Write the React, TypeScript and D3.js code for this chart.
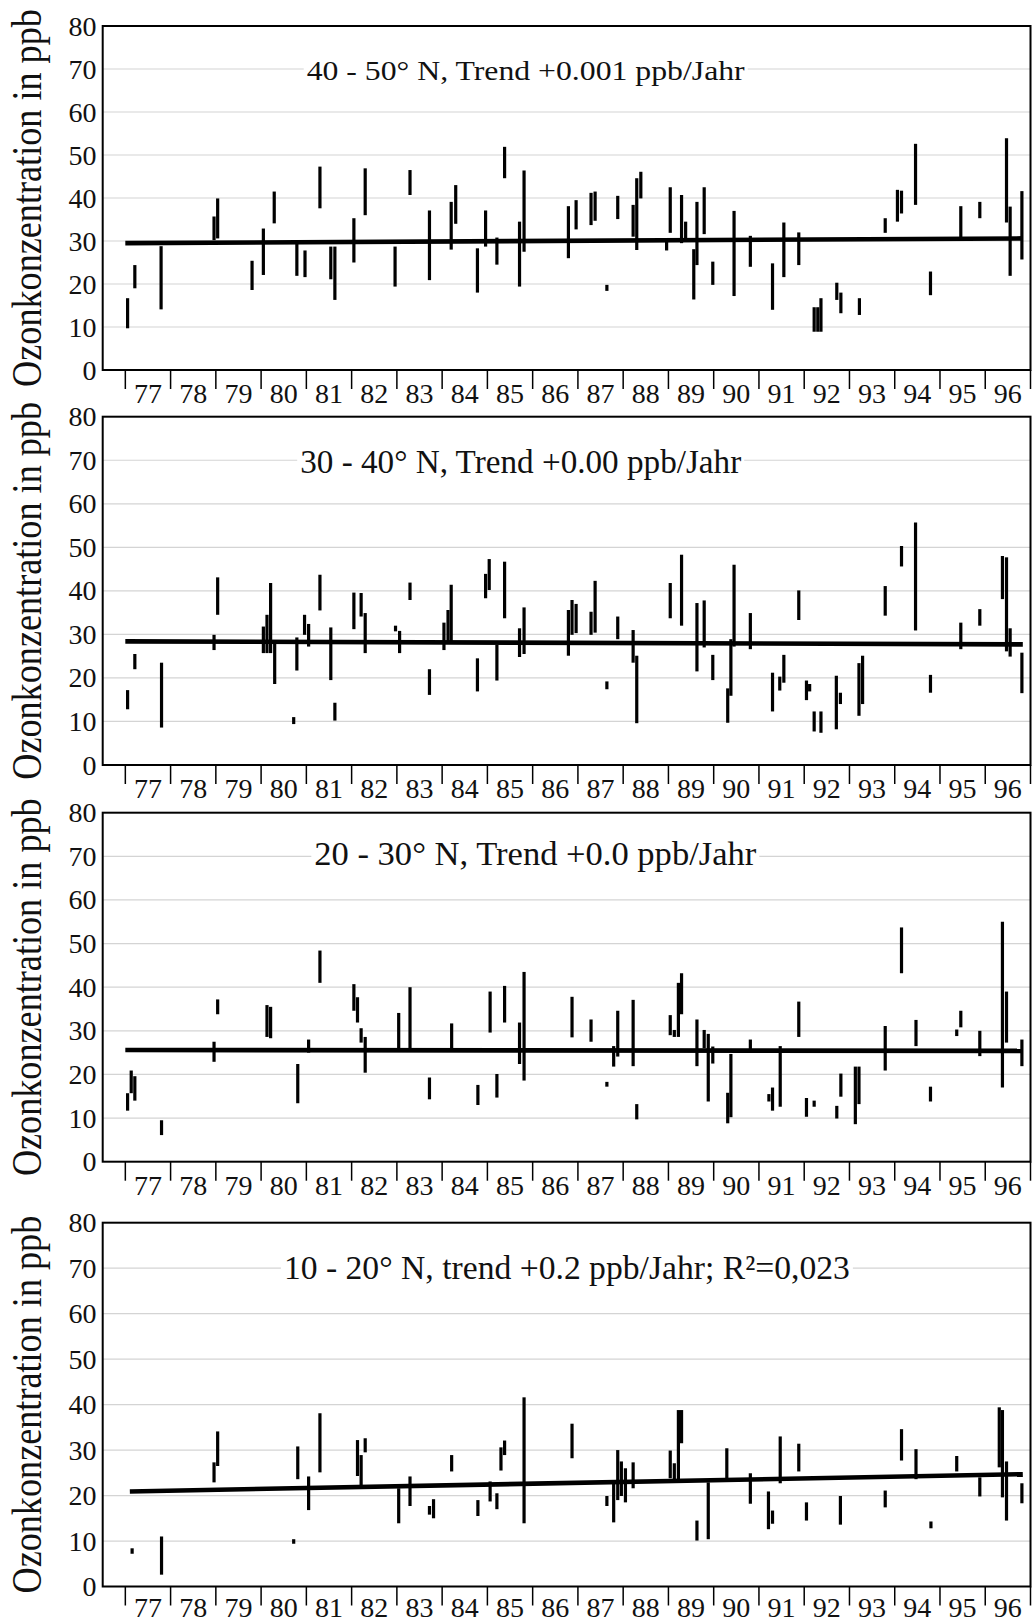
import React from "react";
import * as d3 from "d3";

// ---------- data ----------
const yearTicks: number[] = d3.range(1977, 1998);
const yearLabels: string[] = ["77","78","79","80","81","82","83","84","85","86","87","88","89","90","91","92","93","94","95","96"];
const yTicks: number[] = [0, 10, 20, 30, 40, 50, 60, 70, 80];
const yAxisTitle = "Ozonkonzentration in ppb";

const titles: string[] = [
  "40 - 50° N, Trend +0.001 ppb/Jahr",
  "30 - 40° N, Trend +0.00 ppb/Jahr",
  "20 - 30° N, Trend +0.0 ppb/Jahr",
  "10 - 20° N, trend +0.2 ppb/Jahr; R²=0,023",
];

// [decimal year, min, max] in ppb
const bars40_50: [number, number, number][] = [
  [1977.05, 9.7, 16.7], [1977.21, 19.0, 24.4], [1977.79, 14.1, 28.8], [1978.96, 30.2, 35.7],
  [1979.04, 30.6, 39.9], [1979.80, 18.6, 25.4], [1980.05, 22.1, 32.9], [1980.29, 34.1, 41.5],
  [1980.79, 21.9, 29.5], [1980.97, 21.6, 27.8], [1981.30, 37.6, 47.3], [1981.54, 21.1, 28.7],
  [1981.63, 16.3, 28.7], [1982.05, 25.0, 35.3], [1982.30, 36.0, 46.9], [1982.96, 19.4, 28.7],
  [1983.29, 40.7, 46.5], [1983.72, 20.9, 37.1], [1984.20, 28.0, 39.1], [1984.30, 34.0, 43.0],
  [1984.78, 18.0, 28.3], [1984.96, 28.7, 37.1], [1985.21, 24.5, 30.8], [1985.38, 44.6, 51.9],
  [1985.71, 19.4, 34.5], [1985.81, 27.5, 46.4], [1986.79, 26.0, 38.1], [1986.96, 32.7, 39.5],
  [1987.29, 33.7, 41.2], [1987.38, 34.7, 41.5], [1987.64, 18.4, 19.8], [1987.88, 35.1, 40.5],
  [1988.22, 31.0, 38.4], [1988.30, 27.9, 44.6], [1988.39, 39.9, 46.1], [1988.96, 27.8, 29.8],
  [1989.04, 31.9, 42.5], [1989.29, 29.5, 40.7], [1989.38, 30.2, 34.5], [1989.56, 16.4, 28.1],
  [1989.63, 24.4, 39.1], [1989.79, 31.6, 42.5], [1989.98, 19.8, 25.2], [1990.45, 17.2, 37.0],
  [1990.81, 24.0, 31.2], [1991.30, 14.0, 24.8], [1991.55, 21.6, 34.3], [1991.88, 24.4, 32.0],
  [1992.22, 8.9, 14.6], [1992.30, 8.9, 14.6], [1992.37, 8.9, 16.7], [1992.72, 16.3, 20.3],
  [1992.81, 13.2, 18.0], [1993.22, 12.8, 16.7], [1993.79, 31.9, 35.3], [1994.06, 34.5, 41.9],
  [1994.15, 36.4, 41.7], [1994.46, 38.4, 52.6], [1994.79, 17.4, 22.9], [1995.46, 30.6, 38.1],
  [1995.88, 35.3, 39.1], [1996.47, 34.3, 53.9], [1996.55, 21.9, 38.0], [1996.81, 25.7, 41.6],
];

const bars30_40: [number, number, number][] = [
  [1977.05, 12.8, 17.2], [1977.21, 22.0, 25.5], [1977.80, 8.6, 23.5], [1978.96, 26.4, 29.9],
  [1979.04, 34.5, 43.1], [1980.05, 25.7, 31.8], [1980.13, 25.7, 34.5], [1980.21, 25.7, 41.8],
  [1980.30, 18.6, 28.0], [1980.72, 9.4, 11.0], [1980.79, 21.7, 29.3], [1980.96, 29.9, 34.5],
  [1981.05, 27.2, 32.4], [1981.30, 35.5, 43.7], [1981.54, 19.5, 31.6], [1981.63, 10.2, 14.3],
  [1982.05, 31.2, 39.6], [1982.21, 34.1, 39.5], [1982.30, 25.7, 34.9], [1982.97, 30.7, 32.0],
  [1983.06, 25.7, 30.8], [1983.29, 37.9, 41.9], [1983.72, 16.1, 22.0], [1984.04, 26.4, 32.7],
  [1984.13, 28.0, 35.6], [1984.20, 28.4, 41.4], [1984.78, 16.9, 24.5], [1984.96, 38.3, 43.9],
  [1985.04, 40.2, 47.3], [1985.21, 19.4, 27.6], [1985.38, 33.7, 46.7], [1985.71, 24.8, 31.4],
  [1985.81, 25.5, 36.2], [1986.79, 25.1, 35.6], [1986.87, 29.9, 37.9], [1986.96, 30.3, 37.0],
  [1987.29, 29.9, 35.2], [1987.38, 30.4, 42.3], [1987.64, 17.4, 19.2], [1987.88, 28.9, 34.1],
  [1988.22, 23.5, 31.0], [1988.30, 9.6, 25.1], [1989.04, 33.7, 41.8], [1989.29, 32.0, 48.3],
  [1989.63, 21.5, 37.2], [1989.79, 27.0, 37.8], [1989.98, 19.5, 25.3], [1990.31, 9.7, 17.6],
  [1990.38, 15.9, 28.9], [1990.45, 27.2, 46.0], [1990.81, 26.6, 34.9], [1991.30, 12.3, 21.2],
  [1991.46, 17.1, 20.3], [1991.55, 18.9, 25.3], [1991.88, 33.3, 40.1], [1992.05, 14.9, 19.4],
  [1992.12, 16.9, 18.6], [1992.22, 7.7, 12.3], [1992.37, 7.4, 12.3], [1992.71, 8.2, 20.5],
  [1992.80, 14.0, 16.6], [1993.21, 11.3, 23.4], [1993.29, 14.0, 25.1], [1993.79, 34.3, 41.1],
  [1994.15, 45.6, 50.3], [1994.46, 30.9, 55.7], [1994.79, 16.6, 20.7], [1995.46, 26.6, 32.7],
  [1995.88, 32.0, 35.8], [1996.38, 38.1, 48.0], [1996.47, 26.1, 47.7], [1996.55, 24.9, 31.4],
  [1996.81, 16.5, 25.8],
];

const bars20_30: [number, number, number][] = [
  [1977.05, 11.7, 15.7], [1977.13, 15.7, 20.9], [1977.21, 14.0, 19.6], [1977.80, 6.1, 9.5],
  [1978.96, 22.9, 27.5], [1979.04, 33.8, 37.2], [1980.13, 28.6, 35.9], [1980.21, 28.3, 35.5],
  [1980.81, 13.4, 22.4], [1981.05, 25.0, 28.0], [1981.30, 41.0, 48.4], [1982.05, 34.6, 40.7],
  [1982.13, 31.9, 37.7], [1982.21, 27.3, 30.6], [1982.30, 20.4, 28.6], [1983.04, 26.0, 34.1],
  [1983.29, 26.0, 40.0], [1983.72, 14.3, 19.3], [1984.21, 26.0, 31.7], [1984.79, 13.0, 17.6],
  [1985.06, 29.6, 39.0], [1985.21, 14.7, 20.1], [1985.38, 31.9, 40.3], [1985.71, 22.4, 31.9],
  [1985.81, 18.6, 43.5], [1986.87, 28.5, 37.8], [1987.29, 27.5, 32.6], [1987.64, 17.2, 18.3],
  [1987.79, 21.8, 26.5], [1987.88, 24.1, 34.6], [1988.22, 21.9, 37.1], [1988.30, 9.7, 13.2],
  [1989.04, 29.0, 33.6], [1989.13, 28.6, 30.2], [1989.22, 28.6, 41.0], [1989.29, 33.8, 43.2],
  [1989.63, 21.9, 32.6], [1989.79, 26.0, 30.2], [1989.88, 13.8, 29.3], [1989.98, 22.5, 26.4],
  [1990.31, 8.8, 15.8], [1990.38, 10.2, 24.7], [1990.81, 25.0, 28.0], [1991.22, 13.8, 15.5],
  [1991.30, 11.7, 17.0], [1991.47, 12.6, 26.5], [1991.88, 28.6, 36.7], [1992.05, 10.3, 14.6],
  [1992.22, 12.6, 14.0], [1992.72, 9.9, 12.8], [1992.81, 14.9, 20.2], [1993.13, 8.6, 21.8],
  [1993.21, 13.2, 21.8], [1993.79, 20.9, 31.1], [1994.15, 43.2, 53.7], [1994.47, 26.5, 32.5],
  [1994.79, 13.8, 17.2], [1995.37, 28.8, 30.3], [1995.46, 30.8, 34.6], [1995.88, 24.2, 30.0],
  [1996.38, 17.0, 55.0], [1996.47, 27.3, 39.0], [1996.81, 21.9, 28.0],
];

const bars10_20: [number, number, number][] = [
  [1977.15, 7.2, 8.4], [1977.80, 2.6, 11.0], [1978.96, 22.9, 27.3], [1979.04, 26.5, 34.1],
  [1980.72, 9.4, 10.4], [1980.81, 23.6, 30.8], [1981.05, 16.8, 24.2], [1981.30, 25.1, 38.1],
  [1982.13, 24.3, 32.2], [1982.21, 22.3, 28.9], [1982.30, 29.5, 32.6], [1983.04, 13.9, 21.6],
  [1983.29, 17.7, 24.2], [1983.72, 15.8, 17.7], [1983.81, 15.0, 19.2], [1984.21, 25.3, 28.9],
  [1984.79, 15.5, 19.0], [1985.06, 18.7, 23.1], [1985.21, 17.0, 20.5], [1985.30, 25.5, 30.6],
  [1985.38, 28.9, 32.1], [1985.81, 13.9, 41.6], [1986.87, 28.2, 35.8], [1987.64, 17.7, 19.9],
  [1987.79, 14.1, 22.6], [1987.88, 19.0, 30.0], [1987.96, 19.9, 27.5], [1988.05, 18.5, 26.0],
  [1988.22, 21.6, 27.3], [1989.04, 23.8, 29.9], [1989.13, 23.1, 27.1], [1989.22, 23.1, 38.8],
  [1989.29, 31.5, 38.8], [1989.63, 10.1, 14.5], [1989.88, 10.4, 22.9], [1990.29, 23.8, 30.4],
  [1990.81, 18.2, 24.9], [1991.21, 12.6, 20.9], [1991.30, 13.8, 16.7], [1991.47, 22.7, 33.0],
  [1991.88, 25.3, 31.4], [1992.05, 14.5, 18.5], [1992.80, 13.6, 19.9], [1993.79, 17.4, 21.1],
  [1994.15, 27.7, 34.6], [1994.47, 23.6, 30.2], [1994.80, 12.8, 14.3], [1995.37, 25.3, 28.7],
  [1995.88, 19.8, 24.0], [1996.31, 26.2, 39.4], [1996.38, 19.6, 38.8], [1996.47, 14.5, 27.5],
  [1996.81, 18.3, 22.7],
];

// trend lines: [[year, value], [year, value]]
const trend40_50: [number, number][] = [[1977.0, 29.5], [1996.83, 30.6]];
const trend30_40: [number, number][] = [[1977.0, 28.4], [1996.83, 27.7]];
const trend20_30: [number, number][] = [[1977.0, 25.6], [1996.83, 25.4]];
const trend10_20: [number, number][] = [[1977.1, 20.9], [1996.83, 24.7]];

const panelBars = [bars40_50, bars30_40, bars20_30, bars10_20];
const panelTrends = [trend40_50, trend30_40, trend20_30, trend10_20];

// ---------- layout ----------
const W = 1033;
const H = 1622;
const X_LEFT = 102.7;
const X_RIGHT = 1030.5;
const LAYOUT = [
  { top: 26, bottom: 370, tx: 306.7, tb: 80, tl: 438, ts: 27, lb: 33 },
  { top: 416.7, bottom: 765, tx: 300.2, tb: 472.7, tl: 441, ts: 33, lb: 33 },
  { top: 812.7, bottom: 1161.7, tx: 314.3, tb: 865, tl: 442, ts: 33, lb: 33 },
  { top: 1222.7, bottom: 1586.5, tx: 283.9, tb: 1279.3, tl: 566, ts: 33.5, lb: 30 },
];
const FONT = "'Liberation Serif', 'Times New Roman', Times, serif";

const x = d3.scaleLinear().domain([1976.5, 1997]).range([X_LEFT, X_RIGHT]);

function Panel({ idx }: { idx: number }) {
  const L = LAYOUT[idx];
  const y = d3.scaleLinear().domain([0, 80]).range([L.bottom, L.top]);
  const bars = panelBars[idx];
  const trend = panelTrends[idx];
  const line = d3.line<[number, number]>().x((d) => x(d[0])).y((d) => y(d[1]));
  const midY = (L.top + L.bottom) / 2;
  return (
    <g>
      {/* gridlines */}
      {yTicks.filter((t) => t > 0 && t < 80).map((t) => (
        <line key={"g" + t} x1={X_LEFT} x2={X_RIGHT} y1={y(t)} y2={y(t)} stroke="#d4d4d4" strokeWidth={1.2} />
      ))}
      {/* title with white background */}
      <rect x={L.tx - 3} y={L.tb - L.ts * 0.78} width={L.tl + 6} height={L.ts * 0.98} fill="#fff" />
      <text x={L.tx} y={L.tb} fontFamily={FONT} fontSize={L.ts} fill="#111"
        textLength={L.tl} lengthAdjust="spacingAndGlyphs">{titles[idx]}</text>
      {/* bars */}
      {bars.map((b, i) => (
        <line key={"b" + i} x1={x(b[0])} x2={x(b[0])} y1={y(b[1])} y2={y(b[2])} stroke="#000" strokeWidth={3.2} />
      ))}
      {/* trend */}
      <path d={line(trend) || ""} stroke="#000" strokeWidth={4.6} fill="none" />
      {/* frame */}
      <rect x={X_LEFT} y={L.top} width={X_RIGHT - X_LEFT} height={L.bottom - L.top} fill="none" stroke="#000" strokeWidth={2} />
      {/* y tick labels */}
      {yTicks.map((t) => (
        <text key={"yl" + t} x={96.5} y={y(t) + 9.5} textAnchor="end" fontFamily={FONT} fontSize={28} fill="#111">{t}</text>
      ))}
      {/* x ticks */}
      {yearTicks.map((yr) => (
        <line key={"xt" + yr} x1={x(yr)} x2={x(yr)} y1={L.bottom} y2={L.bottom + 19} stroke="#000" strokeWidth={1.5} />
      ))}
      {yearLabels.map((lab, i) => (
        <text key={"xl" + lab} x={x(1977 + i + 0.5)} y={L.bottom + L.lb} textAnchor="middle" fontFamily={FONT} fontSize={28} fill="#111">{lab}</text>
      ))}
      {/* y axis title */}
      <text transform={`translate(41,${midY}) rotate(-90) scale(1,1.17)`} textAnchor="middle" fontFamily={FONT} fontSize={36.2}
        fill="#111">{yAxisTitle}</text>
    </g>
  );
}

export default function App() {
  return (
    <svg width={W} height={H} viewBox={`0 0 ${W} ${H}`} style={{ position: "absolute", left: 0, top: 0, background: "#fff" }}>
      <rect x={0} y={0} width={W} height={H} fill="#fff" />
      {[0, 1, 2, 3].map((i) => (
        <Panel key={i} idx={i} />
      ))}
    </svg>
  );
}
